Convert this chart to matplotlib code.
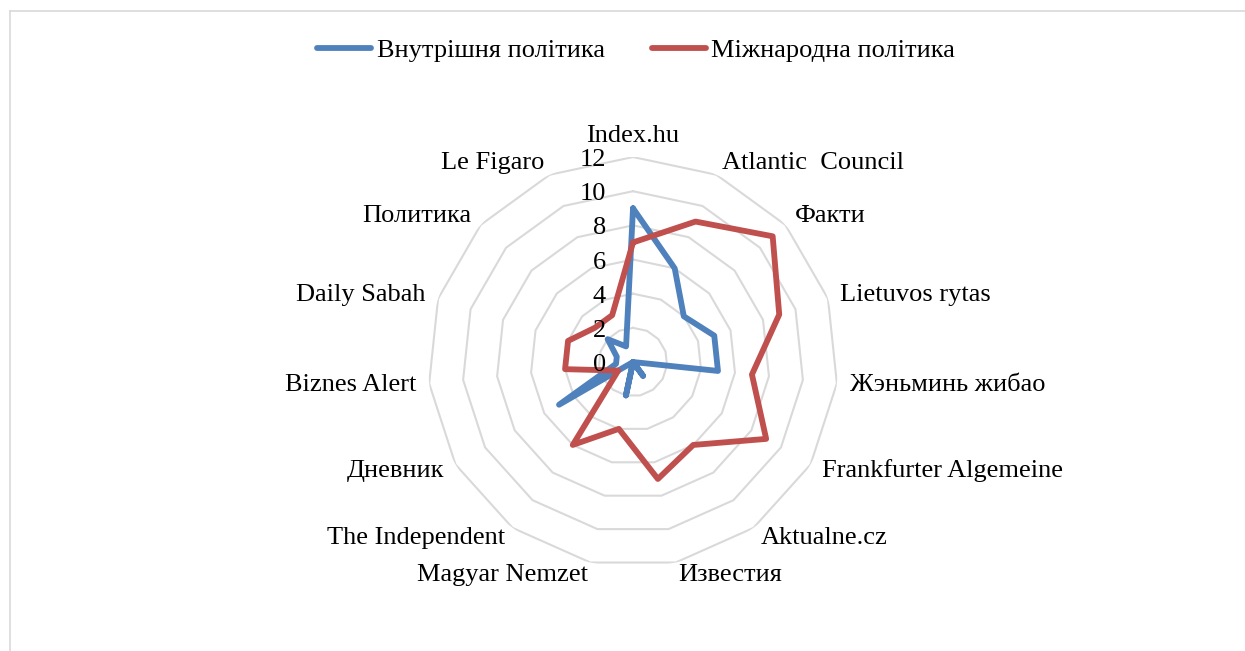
import numpy as np
import matplotlib
matplotlib.use("Agg")
import matplotlib.pyplot as plt
from matplotlib.lines import Line2D

plt.rcParams['font.family'] = ['Liberation Serif', 'DejaVu Serif']

# data
categories = ['Index.hu', 'Atlantic  Council', 'Факти', 'Lietuvos rytas', 'Жэньминь жибао',
              'Frankfurter Algemeine', 'Aktualne.cz', 'Известия', 'Magyar Nemzet',
              'The Independent', 'Дневник', 'Biznes Alert', 'Daily Sabah', 'Политика', 'Le Figaro']
domestic = [9, 6, 4, 5, 5, 0, 1, 0, 2, 0, 5, 1, 1, 2, 1]
international = [7, 9, 11, 9, 7, 9, 6, 7, 4, 6, 1, 4, 4, 3, 3]
series_names = ['Внутрішня політика', 'Міжнародна політика']
ticks = [0, 2, 4, 6, 8, 10, 12]

blue = '#4F81BD'
red = '#C0504D'
grid_c = '#D9D9D9'
fs = 19

fig = plt.figure(figsize=(12.45, 6.51), dpi=100)
ax = fig.add_axes([0.3438, 0.129, 0.3293, 0.6298], projection='polar')
ax.set_theta_zero_location('N')
ax.set_theta_direction(-1)

n = len(categories)
theta = np.linspace(0, 2 * np.pi, n, endpoint=False)
th_closed = np.append(theta, theta[0])

# polygon grid rings
for t in ticks[1:]:
    ax.plot(th_closed, [t] * (n + 1), color=grid_c, lw=1.5, zorder=1)

for vals, col, name in [(domestic, blue, series_names[0]), (international, red, series_names[1])]:
    v = np.append(vals, vals[0])
    ax.plot(th_closed, v, color=col, lw=4.2, solid_joinstyle='round',
            solid_capstyle='round', label=name, zorder=3)

ax.set_ylim(0, 12)
ax.grid(False)
ax.spines['polar'].set_visible(False)
ax.set_xticks([])
ax.set_yticks([])
ax.patch.set_alpha(0)

# radial tick labels
for t in ticks:
    ax.annotate(str(t), xy=(0, t), xytext=(-27, -3), textcoords='offset pixels',
                ha='right', va='center', fontsize=fs, zorder=4)

# category labels
for ang, lab in zip(theta, categories):
    deg = np.degrees(ang)
    if deg < 1:
        ax.text(ang, 12.6, lab, ha='center', va='bottom', fontsize=fs)
    elif deg < 180:
        ax.text(ang, 12.75, lab, ha='left', va='center', fontsize=fs)
    else:
        ax.text(ang, 12.75, lab, ha='right', va='center', fontsize=fs)

handles = [Line2D([0], [0], color=blue, lw=4.2, solid_capstyle='round'),
           Line2D([0], [0], color=red, lw=4.2, solid_capstyle='round')]
fig.legend(handles, series_names, loc='center', bbox_to_anchor=(0.511, 0.923), ncol=2,
           frameon=False, fontsize=fs, handlelength=2.05, handletextpad=0.2,
           columnspacing=1.8)

# chart border
fig.add_artist(Line2D([10 / 1245, 1], [640 / 651, 640 / 651], color='#D9D9D9', lw=1.2,
                      transform=fig.transFigure))
fig.add_artist(Line2D([10 / 1245, 10 / 1245], [0, 640 / 651], color='#D9D9D9', lw=1.2,
                      transform=fig.transFigure))

fig.savefig('out.png', dpi=100)
